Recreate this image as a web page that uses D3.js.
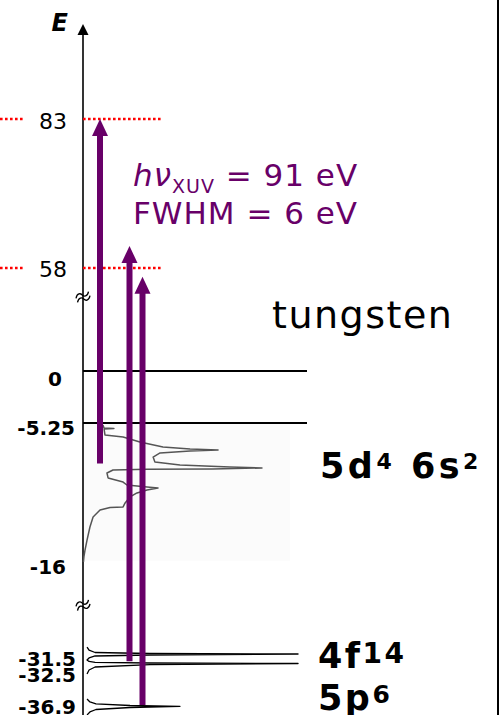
<!DOCTYPE html>
<html><head><meta charset="utf-8">
<script src="https://cdn.jsdelivr.net/npm/d3@7"></script>
<style>html,body{margin:0;padding:0;background:#fff;overflow:hidden}</style>
</head><body><svg id="c" width="499" height="715"></svg>
<script>
// ---------------- data ----------------
const tickValues = [83, 58, 0, -5.25, -16, -31.5, -32.5, -36.9];
const tickLabels = ["83", "58", "0", "-5.25", "-16", "-31.5", "-32.5", "-36.9"];
const photonLevels = [83, 58];
const bandEdges = [0, -5.25];
const axisBreaks = [53, -22.9];
const arrowFrom = [-8.3, -32.3, -36.9];
const arrowTo = [83, 61.7, 56.5];
// valence band density of states (tungsten 5d/6s)
const dosEnergy = [-5.40,-5.63,-5.66,-5.70,-6.15,-6.30,-6.68,-7.05,-7.20,-7.28,-7.35,-7.50,-7.81,-8.18,-8.41,-8.56,-8.63,-8.71,-8.72,-8.78,-9.01,-9.38,-9.69,-9.91,-10.06,-10.14,-10.29,-10.51,-10.81,-11.26,-11.56,-11.60,-11.79,-12.32,-13.07,-14.05,-14.80,-15.32,-15.70];
const dosIntensity = [8.9,9.4,13.8,9.4,9.8,17.9,25.4,35.7,47.8,60.3,47.8,34.4,31.3,32.1,43.3,65.6,79.9,58.0,28.6,13.4,10.7,11.2,17.9,19.6,28.6,33.5,28.6,24.1,21.0,18.8,17.9,12.1,7.6,4.5,3.1,1.8,0.9,0.4,0.2];
// 4f core levels
const coreEnergyA = [-30.27,-30.80,-31.24,-31.41,-31.50,-31.61,-31.72,-31.94,-32.17,-32.33,-32.42,-32.50,-32.55,-32.66,-32.92,-33.23,-33.65];
const coreIntensityA = [1.8,2.7,5.4,29.9,96,29.9,5.4,2.7,1.8,2.7,5.4,29.9,96,29.9,5.4,2.7,1.8];
// 5p core level
const coreEnergyB = [-36.27,-36.58,-36.79,-36.95,-37.04,-37.16,-37.37,-37.63,-37.94];
const coreIntensityB = [1.8,3.1,5.8,21,43.3,21,5.8,3.1,1.8];

// ---------------- layout ----------------
const W = 499, H = 715;
const purple = "#680068";
const FONT = "DejaVu Sans";
const svg = d3.select("#c");
const axisX = 83;

// piecewise (broken) energy axis
const y = d3.scaleLinear()
  .domain([-36.9, -32.5, -31.5, -16, -5.25, 0, 53, 58, 83])
  .range([705, 663, 654, 566, 423, 371, 297, 268, 119]);
const x = d3.scaleLinear().domain([0, 100]).range([axisX, 307]);

// faint background of the scanned DOS
svg.append("rect").attr("x", axisX + 1).attr("y", y(-5.3)).attr("width", 206).attr("height", y(-15.6) - y(-5.3))
  .attr("fill", "#fbfbfb");

// right border
svg.append("line").attr("x1", 498).attr("x2", 498).attr("y1", 0).attr("y2", H)
  .attr("stroke", "#000").attr("stroke-width", 2);

// axis line + arrow head
svg.append("line").attr("x1", axisX).attr("x2", axisX).attr("y1", 33).attr("y2", H)
  .attr("stroke", "#000").attr("stroke-width", 1.6);
svg.append("path").attr("d", `M${axisX},24 L${axisX - 5.5},35 L${axisX + 5.5},35 Z`).attr("fill", "#000");
svg.append("text").attr("x", 68).attr("y", 31).attr("text-anchor", "end")
  .style("font-family", FONT).style("font-size", "24px").style("font-weight", "bold").style("font-style", "italic")
  .text("E");

// ticks via d3 axis
const axisG = svg.append("g").attr("transform", `translate(${axisX},0)`)
  .call(d3.axisLeft(y).tickValues(tickValues).tickFormat((d, i) => tickLabels[i]).tickSize(0));
axisG.select(".domain").remove();
const labelStyle = [
  {size: 22, w: "normal", x: -16, by: 9},
  {size: 22, w: "normal", x: -16, by: 8},
  {size: 20, w: "bold", x: -21, by: 14},
  {size: 20, w: "bold", x: -8, by: 11},
  {size: 20, w: "bold", x: -17, by: 7},
  {size: 20, w: "bold", x: -7, by: 11},
  {size: 20, w: "bold", x: -7, by: 18},
  {size: 20, w: "bold", x: -7, by: 8}
];
axisG.selectAll(".tick text").each(function(d, i) {
  const s = labelStyle[i];
  d3.select(this).attr("dy", null).attr("x", s.x).attr("y", s.by)
    .attr("fill", "#000")
    .style("font-family", FONT).style("font-size", s.size + "px").style("font-weight", s.w);
});

// axis break marks
axisBreaks.forEach(e => {
  const yb = y(e);
  const g = svg.append("g").attr("transform", `translate(${axisX},${yb}) rotate(-20)`);
  [-2.2, 2.2].forEach(o => {
    g.append("path").attr("d", `M-7,${o + 1} C-4,${o - 4} -1,${o - 2} 0,${o} C1,${o + 2} 4,${o + 4} 7,${o - 1}`)
      .attr("fill", "none").attr("stroke", "#000").attr("stroke-width", 1.3);
  });
});

// red dotted photon levels
photonLevels.forEach(e => {
  [[0, 23], [axisX, 162]].forEach(([a, b]) => {
    svg.append("line").attr("x1", a).attr("x2", b).attr("y1", y(e)).attr("y2", y(e))
      .attr("stroke", "#ff0000").attr("stroke-width", 2.5).attr("stroke-dasharray", "2.6,2.4");
  });
});

// band edges
bandEdges.forEach(e => {
  svg.append("line").attr("x1", axisX).attr("x2", 307).attr("y1", y(e)).attr("y2", y(e))
    .attr("stroke", "#000").attr("stroke-width", 1.8);
});

// DOS curve
const line = d3.line().x(d => x(d[1])).y(d => y(d[0]));
svg.append("path").attr("d", line(dosEnergy.map((e, i) => [e, dosIntensity[i]])))
  .attr("fill", "none").attr("stroke", "#555").attr("stroke-width", 1.5).attr("stroke-linejoin", "round");
[[coreEnergyA, coreIntensityA], [coreEnergyB, coreIntensityB]].forEach(([E, I]) => {
  svg.append("path").attr("d", line(E.map((e, i) => [e, I[i]])))
    .attr("fill", "none").attr("stroke", "#000").attr("stroke-width", 1.3).attr("stroke-linejoin", "round");
});

// XUV arrows
const arrowX = [100, 129.5, 142.5];
arrowFrom.forEach((f, i) => {
  const xa = arrowX[i], y0 = y(f), y1 = y(arrowTo[i]);
  svg.append("line").attr("x1", xa).attr("x2", xa).attr("y1", y0).attr("y2", y1 + 14)
    .attr("stroke", purple).attr("stroke-width", 6);
  svg.append("path").attr("d", `M${xa},${y1} L${xa - 8},${y1 + 17} L${xa + 8},${y1 + 17} Z`).attr("fill", purple);
});

// annotations
const t1 = svg.append("text").attr("x", 133).attr("y", 186).attr("fill", purple)
  .style("font-family", FONT).style("font-size", "31px").style("letter-spacing", "1px");
t1.append("tspan").style("font-style", "italic").text("hν");
t1.append("tspan").attr("dy", 7).style("font-size", "19px").text("XUV");
t1.append("tspan").attr("dy", -7).text(" = 91 eV");
svg.append("text").attr("x", 133).attr("y", 224).attr("fill", purple)
  .style("font-family", FONT).style("font-size", "31px").style("letter-spacing", "1px")
  .text("FWHM = 6 eV");

svg.append("text").attr("x", 272).attr("y", 328).attr("fill", "#000")
  .style("font-family", FONT).style("font-size", "38px").style("letter-spacing", "1.5px")
  .text("tungsten");

function orbital(xp, yp, size, ls, parts) {
  const t = svg.append("text").attr("x", xp).attr("y", yp).attr("fill", "#000")
    .style("font-family", FONT).style("font-size", size + "px").style("font-weight", "bold")
    .style("letter-spacing", ls + "px");
  parts.forEach(p => {
    const ts = t.append("tspan").text(p.t);
    if (p.sup) ts.attr("dy", -p.sup).style("font-size", p.size + "px");
    if (p.down) ts.attr("dy", p.down);
  });
}
orbital(320, 478, 35, 3.5, [{t: "5d"}, {t: "4", sup: 9, size: 22}, {t: " 6s", down: 9}, {t: "2", sup: 9, size: 22}]);
orbital(318, 668, 35, 2.5, [{t: "4f"}, {t: "14", sup: 5, size: 28}]);
orbital(318, 710, 35, 2.5, [{t: "5p"}, {t: "6", sup: 7, size: 25}]);
</script>
</body></html>
